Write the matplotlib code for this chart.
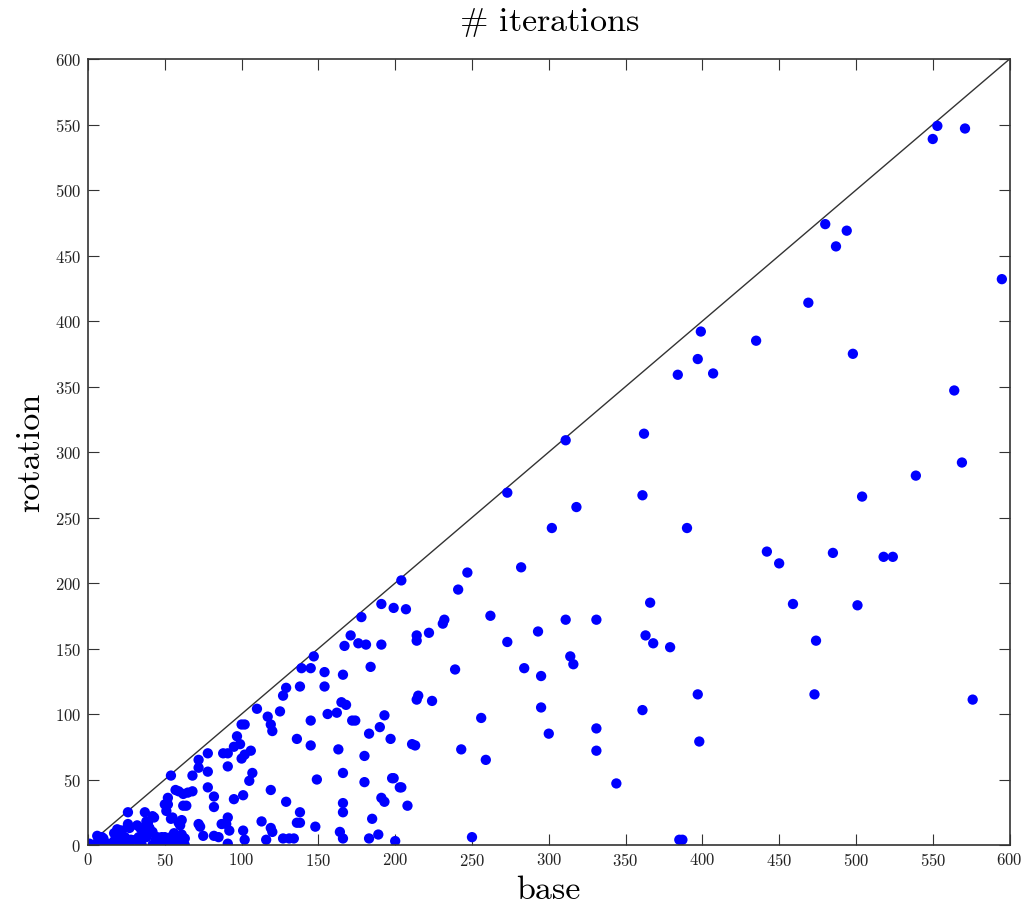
import matplotlib
matplotlib.use("Agg")
import matplotlib.pyplot as plt

base = [
    550, 553, 571, 480, 494, 487, 469, 595, 399, 435, 384, 397, 407, 498, 564,
    362, 311, 569, 539, 273, 361, 504, 318, 302, 390, 442, 450, 485, 518, 524,
    247, 241, 282, 262, 231, 222, 366, 459, 501, 293, 311, 331, 363, 368, 379,
    273, 314, 316, 474, 239, 284, 295, 214, 224, 397, 473, 576, 361, 256, 295,
    300, 331, 211, 243, 331, 398, 259, 344, 250, 385, 387,
    204, 191, 199, 207, 178, 171, 167, 176, 181, 191, 214, 214, 184, 147, 139,
    145, 154, 166, 154, 138, 129, 127, 125, 110, 117, 119, 120, 102, 100, 97,
    99, 95, 106, 102, 100, 107, 105, 101, 95, 91, 88, 91, 78, 78, 72, 72, 68,
    54, 57, 59, 62, 65, 68, 64, 52, 52, 51, 54, 55, 61, 60, 78, 82, 82, 37, 26,
    26, 27, 43, 39, 40, 35, 34, 72, 73, 91, 90, 87, 92, 75, 82, 85, 101, 102,
    113, 119, 120, 116, 127, 131, 134, 129, 119, 138, 136, 138, 148, 149, 145,
    136, 145, 156, 162, 165, 168, 163, 166, 166, 166, 164, 166, 172, 174, 183,
    190, 180, 180, 185, 183, 189, 193, 197, 191, 193, 199, 204, 208, 200, 215,
    213, 45, 48, 49, 55, 54, 58, 61, 63, 61, 0, 4, 7, 9, 8, 13, 17, 18, 19, 22,
    18, 24, 27, 31, 34, 38, 42, 47, 91,
    1, 6, 7, 13, 17, 19, 21, 26, 28, 32, 33, 38, 39, 42, 44, 45, 50, 52, 56, 59,
    60, 63, 26, 35, 21, 10, 42, 50, 62, 232, 198, 203,
]
rotation = [
    539, 549, 547, 474, 469, 457, 414, 432, 392, 385, 359, 371, 360, 375, 347,
    314, 309, 292, 282, 269, 267, 266, 258, 242, 242, 224, 215, 223, 220, 220,
    208, 195, 212, 175, 169, 162, 185, 184, 183, 163, 172, 172, 160, 154, 151,
    155, 144, 138, 156, 134, 135, 129, 111, 110, 115, 115, 111, 103, 97, 105,
    85, 89, 77, 73, 72, 79, 65, 47, 6, 4, 4,
    202, 184, 181, 180, 174, 160, 152, 154, 153, 153, 160, 156, 136, 144, 135,
    135, 132, 130, 121, 121, 120, 114, 102, 104, 98, 92, 87, 92, 92, 83,
    77, 75, 72, 69, 66, 55, 49, 38, 35, 60, 70, 70, 70, 56, 65, 59, 53,
    53, 42, 41, 39, 40, 41, 30, 36, 31, 26, 20, 21, 19, 15, 44, 37, 29, 25, 25,
    16, 13, 21, 17, 13, 12, 13, 16, 14, 21, 16, 16, 11, 7, 7, 6, 11, 4,
    18, 13, 10, 4, 5, 5, 5, 33, 42, 25, 17, 17, 14, 50, 76,
    81, 95, 100, 101, 109, 107, 73, 55, 32, 25, 10, 5, 95, 95, 85,
    90, 68, 48, 20, 5, 8, 99, 81, 36, 33, 51, 44, 30, 3, 114,
    76, 6, 6, 1, 7, 2, 1, 1, 5, 8, 0, 0, 4, 6, 3, 0, 3, 8, 12, 11,
    0, 6, 1, 4, 1, 6, 0, 2, 1,
    1, 7, 1, 1, 9, 4, 11, 14, 4, 15, 6, 18, 9, 10, 4, 0, 6, 1, 9, 17,
    4, 0, 1, 0, 0, 5, 22, 31, 30, 172, 51, 44,
]

xticks = list(range(0, 601, 50))
yticks = list(range(0, 601, 50))

plt.rcParams['font.family'] = 'serif'
plt.rcParams['font.serif'] = ['cmr10', 'DejaVu Serif']
plt.rcParams['mathtext.fontset'] = 'cm'
plt.rcParams['axes.formatter.use_mathtext'] = True

fig = plt.figure(figsize=(10.27, 9.09), dpi=100)
ax = fig.add_axes([0.0857, 0.0704, 0.8973, 0.8646])

ax.plot([0, 600], [0, 600], color='#333333', linewidth=1.0, zorder=1)
ax.scatter(base, rotation, s=55, color='#0000ff', edgecolors='none', zorder=2)

ax.set_xlim(0, 600)
ax.set_ylim(0, 600)
ax.set_xticks(xticks)
ax.set_yticks(yticks)
ax.tick_params(direction='in', length=8, width=0.8, top=True, right=True,
               labelsize=12, pad=5, colors='#333333', labelcolor='#222222')
for sp in ax.spines.values():
    sp.set_linewidth(1.2)
    sp.set_color('#333333')

ax.set_title(r'$\#$ iterations', fontsize=24.5, pad=20)
ax.set_xlabel('base', fontsize=24.5, labelpad=5)
ax.set_ylabel('rotation', fontsize=24.5, labelpad=7)

fig.savefig('out.png', dpi=100)
